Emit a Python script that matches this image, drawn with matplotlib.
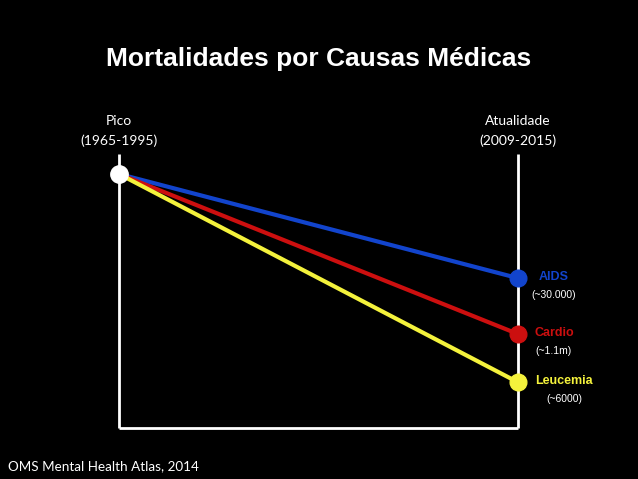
import matplotlib.pyplot as plt

# values (start level = 100)
periods = ["Pico\n(1965-1995)", "Atualidade\n(2009-2015)"]
causes = ["AIDS", "Cardio", "Leucemia"]
start_level = 100
end_levels = [59, 37, 18]
notes = ["(~30.000)", "(~1.1m)", "(~6000)"]
colors = ["#1244cc", "#cc0f0f", "#f4f23c"]
label_dx = [0.09, 0.09, 0.115]

W, H = 638, 479
fig = plt.figure(figsize=(W / 100, H / 100), dpi=100, facecolor="black")
ax = fig.add_axes([119 / W, 1 - 428 / H, (518 - 119) / W, (428 - 174) / H])
ax.set_facecolor("black")
ax.set_xlim(0, 1)
ax.set_ylim(0, 100)
ax.axis("off")

top = 108
frame_kw = dict(color="white", lw=2, clip_on=False, solid_capstyle="butt")
ax.plot([0, 0], [0, top], **frame_kw)
ax.plot([1, 1], [0, top], **frame_kw)
ax.plot([0, 1], [0, 0], **frame_kw)

for cause, end, note, col, dx in zip(causes, end_levels, notes, colors, label_dx):
    ax.plot([0, 1], [start_level, end], color=col, lw=3, clip_on=False,
            solid_capstyle="butt", zorder=3)
    ax.plot(1, end, "o", color=col, ms=12, clip_on=False, zorder=4)
    ax.text(1 + dx, end + 0.5, cause, color=col, fontsize=9, fontweight="bold",
            family="Liberation Sans", ha="center", va="center")
    ax.text(1 + dx, end - 6.5, note, color="white", fontsize=7.5,
            family="Liberation Sans", ha="center", va="center")

ax.plot(0, start_level, "o", color="white", ms=12.5, clip_on=False, zorder=5)

for x, p in zip([0, 1], periods):
    ax.text(x, 110.5, p, color="white", fontsize=10, family="Lato",
            ha="center", va="bottom", linespacing=1.75)

fig.text(319 / W, 1 - 59 / H, "Mortalidades por Causas Médicas", color="white",
         fontsize=19, fontweight="bold", family="Liberation Sans",
         ha="center", va="center")
fig.text(8 / W, 1 - 466 / H, "OMS Mental Health Atlas, 2014", color="white",
         fontsize=9.7, family="Lato", ha="left", va="center")

fig.savefig("out.png", dpi=100, facecolor="black")
